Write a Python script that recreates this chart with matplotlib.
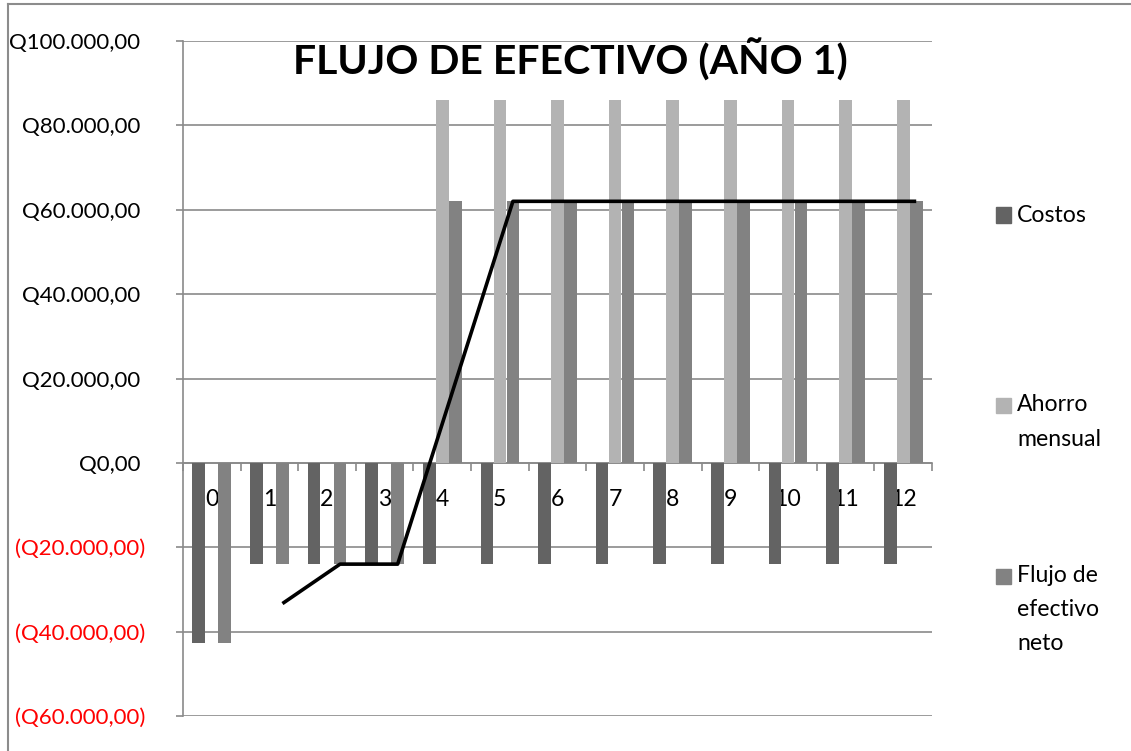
import matplotlib
matplotlib.use("Agg")
import matplotlib.pyplot as plt
from matplotlib.lines import Line2D
from matplotlib.patches import Rectangle
from matplotlib.transforms import ScaledTranslation
import numpy as np

plt.rcParams['font.family'] = ['Lato', 'DejaVu Sans']

# ---- data ----
categories = ["0", "1", "2", "3", "4", "5", "6", "7", "8", "9", "10", "11", "12"]
costos = [-42700, -24000, -24000, -24000, -24000, -24000, -24000, -24000, -24000, -24000, -24000, -24000, -24000]
ahorro = [0, 0, 0, 0, 86000, 86000, 86000, 86000, 86000, 86000, 86000, 86000, 86000]
flujo = [-42700, -24000, -24000, -24000, 62000, 62000, 62000, 62000, 62000, 62000, 62000, 62000, 62000]
# trend line (2-period moving average of net cash flow), periods 1..12
trend_x = [1, 2, 3, 4, 5, 6, 7, 8, 9, 10, 11, 12]
trend_y = [-33350, -24000, -24000, 19000, 62000, 62000, 62000, 62000, 62000, 62000, 62000, 62000]
yticks = [-60000, -40000, -20000, 0, 20000, 40000, 60000, 80000, 100000]
ytick_labels = ["(Q60.000,00)", "(Q40.000,00)", "(Q20.000,00)", "Q0,00", "Q20.000,00",
                "Q40.000,00", "Q60.000,00", "Q80.000,00", "Q100.000,00"]
series_names = ["Costos", "Ahorro\nmensual", "Flujo de\nefectivo\nneto"]
title = "FLUJO DE EFECTIVO (AÑO 1)"

c_costos = "#636363"
c_ahorro = "#b3b3b3"
c_flujo = "#828282"
grid_c = "#8a8a8a"
fs_tick = 16.0
fs_leg = 16.6

W, H = 1131, 751
fig = plt.figure(figsize=(W / 100, H / 100), dpi=100)
ax = fig.add_axes([183 / W, 1 - 716 / H, (932 - 183) / W, (716 - 41) / H])

x = np.arange(len(categories))
bw = 0.22
off = 0.226
ax.bar(x - off, costos, width=bw, color=c_costos, zorder=3)
ax.bar(x, ahorro, width=bw, color=c_ahorro, zorder=3)
ax.bar(x + off, flujo, width=bw, color=c_flujo, zorder=3)
ax.plot(np.array(trend_x) + off, trend_y, color="black", lw=2.6, zorder=4,
        solid_capstyle="butt")

ax.set_xlim(-0.5, len(categories) - 0.5)
ax.set_ylim(-60000, 100000)

# y axis
ax.set_yticks(yticks)
ax.set_yticklabels(ytick_labels)
ax.tick_params(axis="y", length=5, width=1.2, color=grid_c, pad=22, labelsize=fs_tick)
for lbl, v in zip(ax.get_yticklabels(), yticks):
    if v < 0:
        lbl.set_color("#ff0000")
    else:
        lbl.set_color("black")
        lbl.set_transform(lbl.get_transform() + ScaledTranslation(-5 / 100, 0, fig.dpi_scale_trans))
ax.yaxis.grid(True, color=grid_c, lw=1.2, zorder=0)

# x axis at zero
ax.spines["bottom"].set_position(("data", 0))
ax.spines["bottom"].set_color(grid_c)
ax.spines["bottom"].set_linewidth(1.2)
ax.spines["bottom"].set_zorder(2)
ax.set_xticks(x)
ax.set_xticklabels(categories)
ax.tick_params(axis="x", length=0, pad=19, labelsize=fs_leg)
ax.set_xticks(np.arange(len(categories) + 1) - 0.5, minor=True)
ax.tick_params(axis="x", which="minor", length=6, width=1.2, color=grid_c, direction="out")
ax.spines["left"].set_color(grid_c)
ax.spines["left"].set_linewidth(1.2)
ax.spines["top"].set_visible(False)
ax.spines["right"].set_visible(False)
ax.set_axisbelow(False)

# title
fig.text(570 / W, 1 - 75 / H, title, ha="center", va="baseline",
         fontsize=29.5, fontweight="bold", color="black")

# legend (manual, Excel-like spacing)
colors = [c_costos, c_ahorro, c_flujo]
marker_centers = [215, 405, 576]
line_h = 34
for name, col, yc in zip(series_names, colors, marker_centers):
    fig.patches.append(Rectangle((996 / W, 1 - (yc + 7.5) / H), 15 / W, 15 / H,
                                 transform=fig.transFigure, color=col))
    for i, part in enumerate(name.split("\n")):
        fig.text(1017 / W, 1 - (yc + i * line_h) / H, part, ha="left", va="center",
                 fontsize=fs_leg, color="black")

# chart border
fig.add_artist(Line2D([8 / W, 1.0], [1 - 4 / H, 1 - 4 / H], transform=fig.transFigure,
                      color="#8c8c8c", lw=1.5))
fig.add_artist(Line2D([8 / W, 8 / W], [1 - 4 / H, 0.0], transform=fig.transFigure,
                      color="#8c8c8c", lw=1.5))

fig.savefig("out.png", dpi=100)
